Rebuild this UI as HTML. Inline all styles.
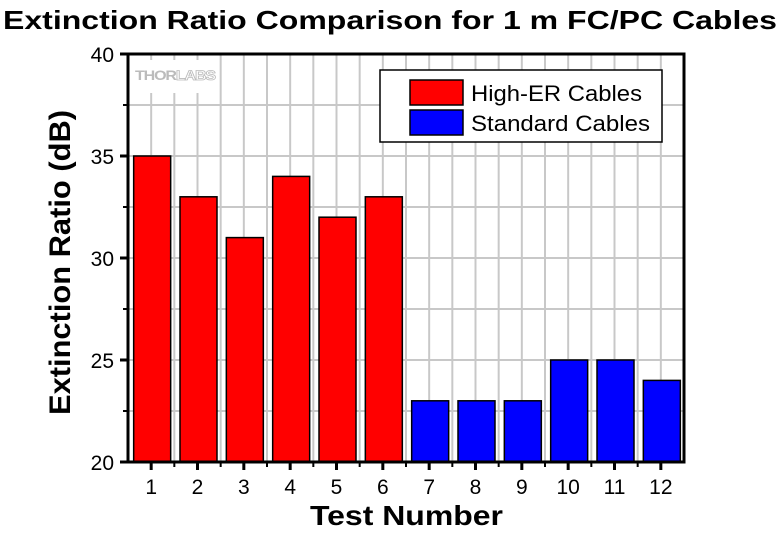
<!DOCTYPE html><html><head><style>body{margin:0;background:#fff}</style></head><body>
<svg width="780" height="534" xmlns="http://www.w3.org/2000/svg" font-family="Liberation Sans, Arial, sans-serif">
<rect width="780" height="534" fill="#fff"/>
<text x="3" y="29" font-size="26" font-weight="bold" textLength="774" lengthAdjust="spacingAndGlyphs">Extinction Ratio Comparison for 1 m FC/PC Cables</text>
<g stroke="#c8c8c8" stroke-width="2">
<line x1="151.17" y1="54" x2="151.17" y2="462"/><line x1="174.33" y1="54" x2="174.33" y2="462"/><line x1="197.5" y1="54" x2="197.5" y2="462"/><line x1="220.67" y1="54" x2="220.67" y2="462"/><line x1="243.83" y1="54" x2="243.83" y2="462"/><line x1="267" y1="54" x2="267" y2="462"/><line x1="290.17" y1="54" x2="290.17" y2="462"/><line x1="313.33" y1="54" x2="313.33" y2="462"/><line x1="336.5" y1="54" x2="336.5" y2="462"/><line x1="359.67" y1="54" x2="359.67" y2="462"/><line x1="382.83" y1="54" x2="382.83" y2="462"/><line x1="406" y1="54" x2="406" y2="462"/><line x1="429.17" y1="54" x2="429.17" y2="462"/><line x1="452.33" y1="54" x2="452.33" y2="462"/><line x1="475.5" y1="54" x2="475.5" y2="462"/><line x1="498.67" y1="54" x2="498.67" y2="462"/><line x1="521.83" y1="54" x2="521.83" y2="462"/><line x1="545" y1="54" x2="545" y2="462"/><line x1="568.17" y1="54" x2="568.17" y2="462"/><line x1="591.33" y1="54" x2="591.33" y2="462"/><line x1="614.5" y1="54" x2="614.5" y2="462"/><line x1="637.67" y1="54" x2="637.67" y2="462"/><line x1="660.83" y1="54" x2="660.83" y2="462"/>
<line x1="128" y1="105" x2="684" y2="105"/><line x1="128" y1="156" x2="684" y2="156"/><line x1="128" y1="207" x2="684" y2="207"/><line x1="128" y1="258" x2="684" y2="258"/><line x1="128" y1="309" x2="684" y2="309"/><line x1="128" y1="360" x2="684" y2="360"/><line x1="128" y1="411" x2="684" y2="411"/>
</g>
<rect x="133" y="60" width="85" height="33" fill="#fff"/>
<text x="135" y="80" font-size="14" font-weight="bold" fill="#bbb" letter-spacing="-1" textLength="80" lengthAdjust="spacingAndGlyphs">THOR<tspan fill="#fff" stroke="#bbb" stroke-width="0.8">LABS</tspan></text>
<g stroke="#000" stroke-width="1.5" fill="#f00">
<rect x="133.67" y="156" width="37" height="306"/>
<rect x="180" y="196.8" width="37" height="265.2"/>
<rect x="226.33" y="237.6" width="37" height="224.4"/>
<rect x="272.67" y="176.4" width="37" height="285.6"/>
<rect x="319" y="217.2" width="37" height="244.8"/>
<rect x="365.33" y="196.8" width="37" height="265.2"/>
</g>
<g stroke="#000" stroke-width="1.5" fill="#00f">
<rect x="411.67" y="400.8" width="37" height="61.2"/>
<rect x="458" y="400.8" width="37" height="61.2"/>
<rect x="504.33" y="400.8" width="37" height="61.2"/>
<rect x="550.67" y="360" width="37" height="102"/>
<rect x="597" y="360" width="37" height="102"/>
<rect x="643.33" y="380.4" width="37" height="81.6"/>
</g>
<g stroke="#000" stroke-width="3">
<line x1="151.17" y1="462" x2="151.17" y2="470"/><line x1="197.5" y1="462" x2="197.5" y2="470"/><line x1="243.83" y1="462" x2="243.83" y2="470"/><line x1="290.17" y1="462" x2="290.17" y2="470"/><line x1="336.5" y1="462" x2="336.5" y2="470"/><line x1="382.83" y1="462" x2="382.83" y2="470"/><line x1="429.17" y1="462" x2="429.17" y2="470"/><line x1="475.5" y1="462" x2="475.5" y2="470"/><line x1="521.83" y1="462" x2="521.83" y2="470"/><line x1="568.17" y1="462" x2="568.17" y2="470"/><line x1="614.5" y1="462" x2="614.5" y2="470"/><line x1="660.83" y1="462" x2="660.83" y2="470"/>
<line x1="120" y1="54" x2="128" y2="54"/><line x1="120" y1="156" x2="128" y2="156"/><line x1="120" y1="258" x2="128" y2="258"/><line x1="120" y1="360" x2="128" y2="360"/><line x1="120" y1="462" x2="128" y2="462"/>
</g>
<g stroke="#000" stroke-width="2">
<line x1="174.33" y1="462" x2="174.33" y2="467"/><line x1="220.67" y1="462" x2="220.67" y2="467"/><line x1="267" y1="462" x2="267" y2="467"/><line x1="313.33" y1="462" x2="313.33" y2="467"/><line x1="359.67" y1="462" x2="359.67" y2="467"/><line x1="406" y1="462" x2="406" y2="467"/><line x1="452.33" y1="462" x2="452.33" y2="467"/><line x1="498.67" y1="462" x2="498.67" y2="467"/><line x1="545" y1="462" x2="545" y2="467"/><line x1="591.33" y1="462" x2="591.33" y2="467"/><line x1="637.67" y1="462" x2="637.67" y2="467"/>
<line x1="123" y1="105" x2="128" y2="105"/><line x1="123" y1="207" x2="128" y2="207"/><line x1="123" y1="309" x2="128" y2="309"/><line x1="123" y1="411" x2="128" y2="411"/>
</g>
<g font-size="21" text-anchor="middle">
<text x="151.17" y="494">1</text><text x="197.5" y="494">2</text><text x="243.83" y="494">3</text><text x="290.17" y="494">4</text><text x="336.5" y="494">5</text><text x="382.83" y="494">6</text><text x="429.17" y="494">7</text><text x="475.5" y="494">8</text><text x="521.83" y="494">9</text><text x="568.17" y="494">10</text><text x="614.5" y="494">11</text><text x="660.83" y="494">12</text>
</g>
<g font-size="21" text-anchor="end">
<text x="114" y="62">40</text><text x="114" y="164">35</text><text x="114" y="266">30</text><text x="114" y="368">25</text><text x="114" y="470">20</text>
</g>
<rect x="128" y="54" width="556" height="408" fill="none" stroke="#000" stroke-width="3"/>
<rect x="380" y="70" width="282" height="72" fill="#fff" stroke="#000" stroke-width="1.5"/>
<rect x="410" y="80" width="53" height="25" fill="#f00" stroke="#000" stroke-width="1.5"/>
<rect x="410" y="110" width="53" height="25" fill="#00f" stroke="#000" stroke-width="1.5"/>
<text x="471" y="101" font-size="22" textLength="171" lengthAdjust="spacingAndGlyphs">High-ER Cables</text>
<text x="471" y="131" font-size="22" textLength="179" lengthAdjust="spacingAndGlyphs">Standard Cables</text>
<text x="310" y="525" font-size="28" font-weight="bold" textLength="193" lengthAdjust="spacingAndGlyphs">Test Number</text>
<text transform="translate(70,415) rotate(-90)" font-size="30" font-weight="bold" textLength="305" lengthAdjust="spacingAndGlyphs">Extinction Ratio (dB)</text>
</svg>
</body></html>
